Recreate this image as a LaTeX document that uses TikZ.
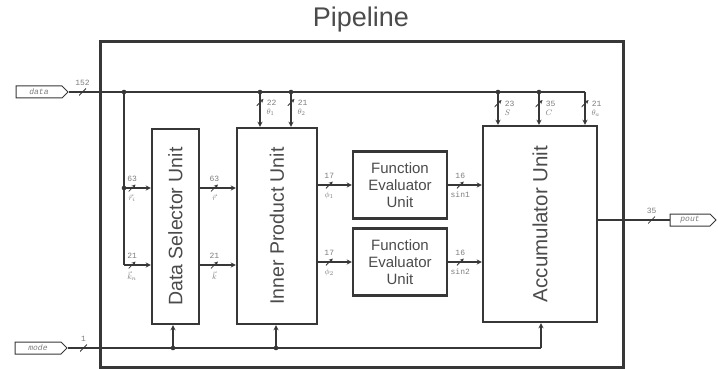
\documentclass[tikz,border=0pt]{standalone}
\usepackage{fontspec}
\setsansfont{Liberation Sans}
\setmonofont{Liberation Mono}
\usetikzlibrary{shapes.symbols}
\definecolor{linec}{RGB}{55,55,55}
\definecolor{ink}{RGB}{75,75,75}
\definecolor{faint}{RGB}{125,125,125}
\begin{document}
\begin{tikzpicture}[x=1pt, y=-1pt, >=stealth,
    unit/.style={draw=linec, line width=2.2pt, inner sep=0pt, text=ink,
      font=\sffamily\fontsize{19.5}{21}\selectfont},
    fnunit/.style={unit, minimum width=94pt, minimum height=67pt, align=center,
      font=\sffamily\fontsize{15}{17}\selectfont},
    port/.style={draw=linec, line width=1pt, signal, signal to=east,
      minimum width=52pt, minimum height=12pt, inner sep=0pt, text=faint,
      font=\ttfamily\itshape\fontsize{8}{8}\selectfont},
    sig/.style={draw=linec, line width=1.3pt},
    busw/.style={minimum size=7pt, inner sep=0pt,
      path picture={\draw[linec, line width=0.8pt] (path picture bounding box.south west)
        -- (path picture bounding box.north east);}},
    num/.style={text=faint, inner sep=1pt, label distance=1pt, font=\ttfamily\fontsize{8}{8}\selectfont}]
  \useasboundingbox (0,0) rectangle (718,369);

  % 外框与标题
  \draw[line width=3pt, linec] (100,42) rectangle (623,367);
  \node[text=ink, font=\sffamily\fontsize{27}{27}\selectfont] (title) at (361,20) {Pipeline};

  % 各单元
  \node[unit, minimum width=47pt, minimum height=195pt] (sel) at (175.5,226.5) {\rotatebox{90}{Data Selector Unit}};
  \node[unit, minimum width=80pt, minimum height=196pt] (ip) at (277,226) {\rotatebox{90}{Inner Product Unit}};
  \node[fnunit] (fe1) at (400,185) {Function\\Evaluator\\Unit};
  \node[fnunit] (fe2) at (400,262) {Function\\Evaluator\\Unit};
  \node[unit, minimum width=114pt, minimum height=196pt, font=\sffamily\fontsize{20.5}{22}\selectfont] (acc) at (540,224) {\rotatebox{90}{Accumulator Unit}};

  % 端口
  \node[port] (data) at (39,92) {data};
  \node[port] (mode) at (38,348) {mode};
  \node[port, minimum width=46pt] (pout) at (690,220) {pout};

  % 分支点
  \coordinate (jsel) at (124,92);
  \coordinate (jr) at (124,188);
  \coordinate (jk) at (124,265);
  \coordinate (jt1) at (260,92);
  \coordinate (jt2) at (291,92);
  \coordinate (ja1) at (498,92);
  \coordinate (ja2) at (539,92);
  \coordinate (jc) at (585,92);
  \coordinate (jm1) at (173,348);
  \coordinate (jm2) at (276,348);
  \coordinate (jmc) at (541,348);

  % data 总线
  \draw[sig] (data.east) -- node[busw, pos=0.25, label={[num]above:152}] {} (jsel) -- (jc);
  \draw[sig] (jsel) -- (jk);
  \draw[sig, ->] (jr) -- node[busw, pos=0.3, label={[num]above:63}, label={[num]below:$\vec{r}_i$}] {} (jr -| sel.west);
  \draw[sig, ->] (jk) -- node[busw, pos=0.3, label={[num]above:21}, label={[num]below:$\vec{k}_n$}] {} (jk -| sel.west);
  \draw[sig, ->] (jt1) -- node[busw, pos=0.3, label={[num]right:22}, label={[num]below right:$\theta_1$}] {} (jt1 |- ip.north);
  \draw[sig, ->] (jt2) -- node[busw, pos=0.3, label={[num]right:21}, label={[num]below right:$\theta_2$}] {} (jt2 |- ip.north);
  \draw[sig, ->] (ja1) -- node[busw, pos=0.35, label={[num]right:23}, label={[num]below right:$S$}] {} (ja1 |- acc.north);
  \draw[sig, ->] (ja2) -- node[busw, pos=0.35, label={[num]right:35}, label={[num]below right:$C$}] {} (ja2 |- acc.north);
  \draw[sig, ->] (jc) -- node[busw, pos=0.35, label={[num]right:21}, label={[num]below right:$\theta_a$}] {} (jc |- acc.north);

  % 单元之间
  \draw[sig, ->] (sel.east |- jr) -- node[busw, pos=0.4, label={[num]above:63}, label={[num]below:$\vec{r}$}] {} (ip.west |- jr);
  \draw[sig, ->] (sel.east |- jk) -- node[busw, pos=0.4, label={[num]above:21}, label={[num]below:$\vec{k}$}] {} (ip.west |- jk);
  \draw[sig, ->] (ip.east |- fe1.west) -- node[busw, pos=0.33, label={[num]above:17}, label={[num]below:$\phi_1$}] {} (fe1.west);
  \draw[sig, ->] (ip.east |- fe2.west) -- node[busw, pos=0.33, label={[num]above:17}, label={[num]below:$\phi_2$}] {} (fe2.west);
  \draw[sig, ->] (fe1.east) -- node[busw, pos=0.36, label={[num]above:16}, label={[num]below:sin1}] {} (fe1.east -| acc.west);
  \draw[sig, ->] (fe2.east) -- node[busw, pos=0.36, label={[num]above:16}, label={[num]below:sin2}] {} (fe2.east -| acc.west);
  \draw[sig] (acc.east |- pout.west) -- node[busw, pos=0.75, label={[num]above:35}] {} (pout.west);

  % mode 线
  \draw[sig] (mode.east) -- node[busw, pos=0.15, label={[num]above:1}] {} (jm1) -- (jmc);
  \draw[sig, ->] (jm1) -- (jm1 |- sel.south);
  \draw[sig, ->] (jm2) -- (jm2 |- ip.south);
  \draw[sig, ->] (jmc) -- (jmc |- acc.south);

  % 节点圆点
  \foreach \p in {jsel, jr, jt1, jt2, ja1, ja2, jm1, jm2}
    \fill[linec] (\p) circle (2.3pt);
\end{tikzpicture}
\end{document}
